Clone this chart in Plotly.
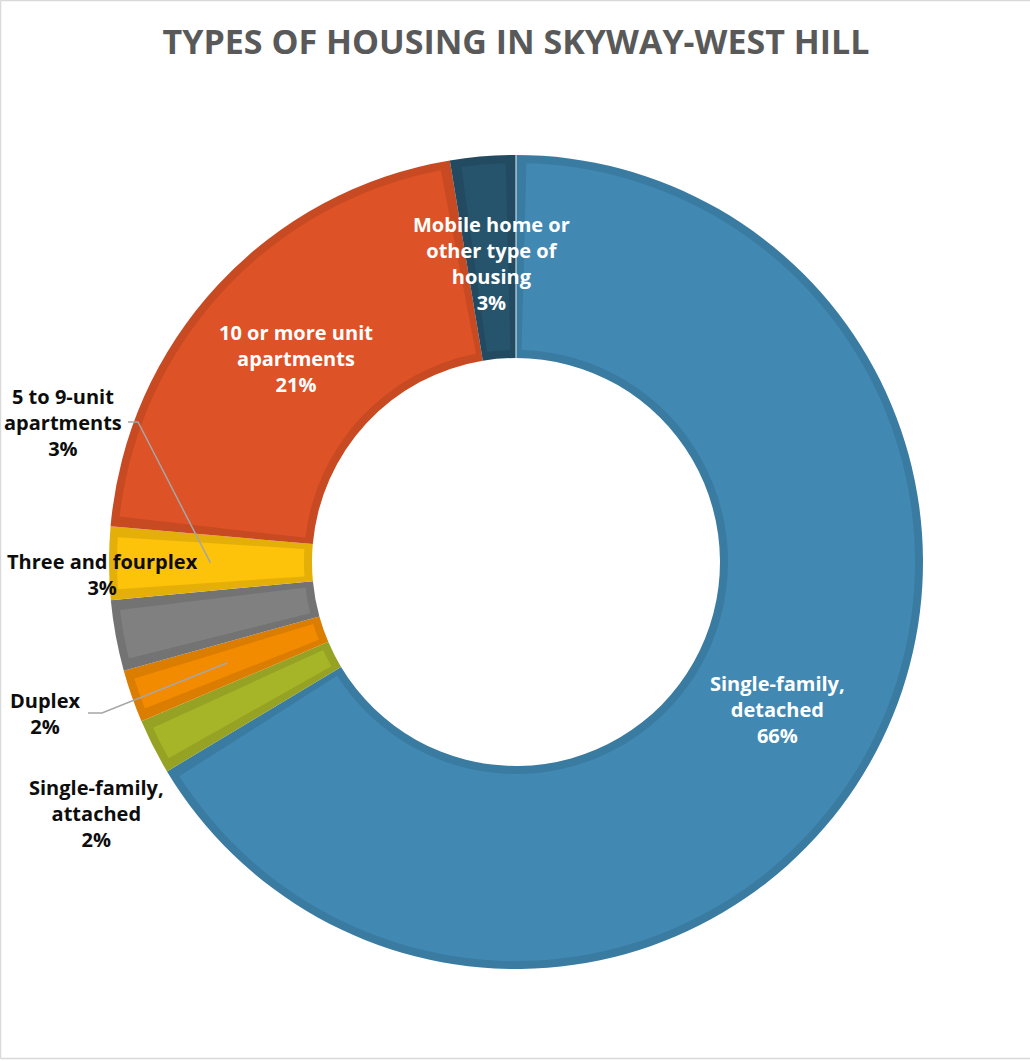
import math
import plotly.graph_objects as go

# ---------------- data ----------------
categories = [
    "Single-family, detached",
    "Single-family, attached",
    "Duplex",
    "Three and fourplex",
    "5 to 9-unit apartments",
    "10 or more unit apartments",
    "Mobile home or other type of housing",
]
shares = [66.4, 2.2, 2.1, 2.8, 2.9, 21.0, 2.6]
display_names = [
    "Single-family,<br>detached",
    "Single-family,<br>attached",
    "Duplex",
    "Three and fourplex",
    "5 to 9-unit<br>apartments",
    "10 or more unit<br>apartments",
    "Mobile home or<br>other type of<br>housing",
]
title_text = "TYPES OF HOUSING IN SKYWAY-WEST HILL"

# ---------------- styles ----------------
fill_colors = ["#4189B3", "#A6B428", "#F38B00", "#808080", "#FDC20A", "#DD5226", "#26546C"]
edge_colors = ["#3A7BA1", "#95A224", "#DB7D00", "#737373", "#E4AF09", "#C84A22", "#224B61"]
FONT = "Open Sans"

W, H = 1030, 1061
CX, CY = 516, 562          # pie centre (px)
R_OUT, R_IN = 407, 204     # outer / inner radius (px)
EDGE = 8                   # inner border width (px)
R_MID = (R_OUT + R_IN) / 2
R_LABEL = 300

def px(x, y):
    return x / W, 1 - y / H

def domain(r):
    return dict(x=[(CX - r) / W, (CX + r) / W], y=[1 - (CY + r) / H, 1 - (CY - r) / H])

total = sum(shares)

# mid angles (clockwise from 12 o'clock)
mid_angles = []
acc = 0
for v in shares:
    mid_angles.append((acc + v / 2) / total * 2 * math.pi)
    acc += v

def polar(r, th):
    return CX + r * math.sin(th), CY - r * math.cos(th)

fig = go.Figure()

# border layer (full ring in darker shade)
fig.add_trace(go.Pie(
    labels=categories, values=shares, sort=False, direction="clockwise", rotation=0,
    marker=dict(colors=edge_colors, line=dict(width=0)),
    hole=R_IN / R_OUT, domain=domain(R_OUT), textinfo="none",
    hovertemplate="%{label}: %{percent}<extra></extra>", showlegend=False,
))

# fill layer, inset by EDGE px
gap = EDGE * total / (math.pi * R_MID)
vals2, cols2, labs2 = [], [], []
for i, v in enumerate(shares):
    vals2 += [gap / 2, v - gap, gap / 2]
    cols2 += ["rgba(0,0,0,0)", fill_colors[i], "rgba(0,0,0,0)"]
    labs2 += [f"a{i}", f"f{i}", f"b{i}"]
r2 = R_OUT - EDGE
fig.add_trace(go.Pie(
    labels=labs2, values=vals2, sort=False, direction="clockwise", rotation=0,
    marker=dict(colors=cols2, line=dict(width=0)),
    hole=(R_IN + EDGE) / r2, domain=domain(r2), textinfo="none",
    hoverinfo="skip", showlegend=False,
))

annotations = []
shapes = []

# inside labels
for i in (0, 5, 6):
    x, y = polar(R_LABEL, mid_angles[i])
    xp, yp = px(x, y)
    pct = round(shares[i] / total * 100)
    annotations.append(dict(
        x=xp, y=yp, xref="paper", yref="paper", xanchor="center", yanchor="middle",
        text=f"{display_names[i]}<br>{pct}%", showarrow=False, align="center",
        font=dict(family=FONT, size=20, color="white", weight="bold"),
    ))

# outside labels (manually placed, as in the original)
outside = {
    1: dict(pos=(96, 813)),
    2: dict(pos=(45, 713), leader=[(88, 713), (102, 713)]),
    3: dict(pos=(102, 574)),
    4: dict(pos=(63, 422), leader=[(128, 422), (138, 422)]),
}
for i, cfg in outside.items():
    xp, yp = px(*cfg["pos"])
    pct = round(shares[i] / total * 100)
    annotations.append(dict(
        x=xp, y=yp, xref="paper", yref="paper", xanchor="center", yanchor="middle",
        text=f"{display_names[i]}<br>{pct}%", showarrow=False, align="center",
        font=dict(family=FONT, size=20, color="#0D0D0D", weight="bold"),
    ))
    if "leader" in cfg:
        pts = cfg["leader"] + [polar(R_MID, mid_angles[i])]
        path = "M " + " L ".join(f"{px(a, b)[0]},{px(a, b)[1]}" for a, b in pts)
        shapes.append(dict(type="path", path=path, xref="paper", yref="paper",
                           line=dict(color="#A6A6A6", width=1.5)))

# thin light separator at the start angle
x0, y0 = polar(R_IN, 0)
x1, y1 = polar(R_OUT, 0)
shapes.append(dict(type="line", xref="paper", yref="paper",
                   x0=px(x0, y0)[0], y0=px(x0, y0)[1], x1=px(x1, y1)[0], y1=px(x1, y1)[1],
                   line=dict(color="rgba(255,255,255,0.45)", width=2)))

# chart-area frame (top, left, bottom)
for a, b in [((0.5, 0.5), (W, 0.5)), ((0.5, 0.5), (0.5, 1058.5)), ((0.5, 1058.5), (W, 1058.5))]:
    pa, pb = px(*a), px(*b)
    shapes.append(dict(type="line", xref="paper", yref="paper",
                       x0=pa[0], y0=pa[1], x1=pb[0], y1=pb[1],
                       line=dict(color="#D9D9D9", width=1.5)))

fig.update_layout(
    width=W, height=H,
    margin=dict(l=0, r=0, t=0, b=0),
    paper_bgcolor="white", plot_bgcolor="white",
    title=dict(text=title_text, x=516 / W, y=1 - 42 / H, xanchor="center", yanchor="middle",
               xref="paper", yref="paper",
               font=dict(family=FONT, size=34, color="#595959", weight="bold")),
    annotations=annotations,
    shapes=shapes,
    showlegend=False,
)

fig.write_html("out.html")
